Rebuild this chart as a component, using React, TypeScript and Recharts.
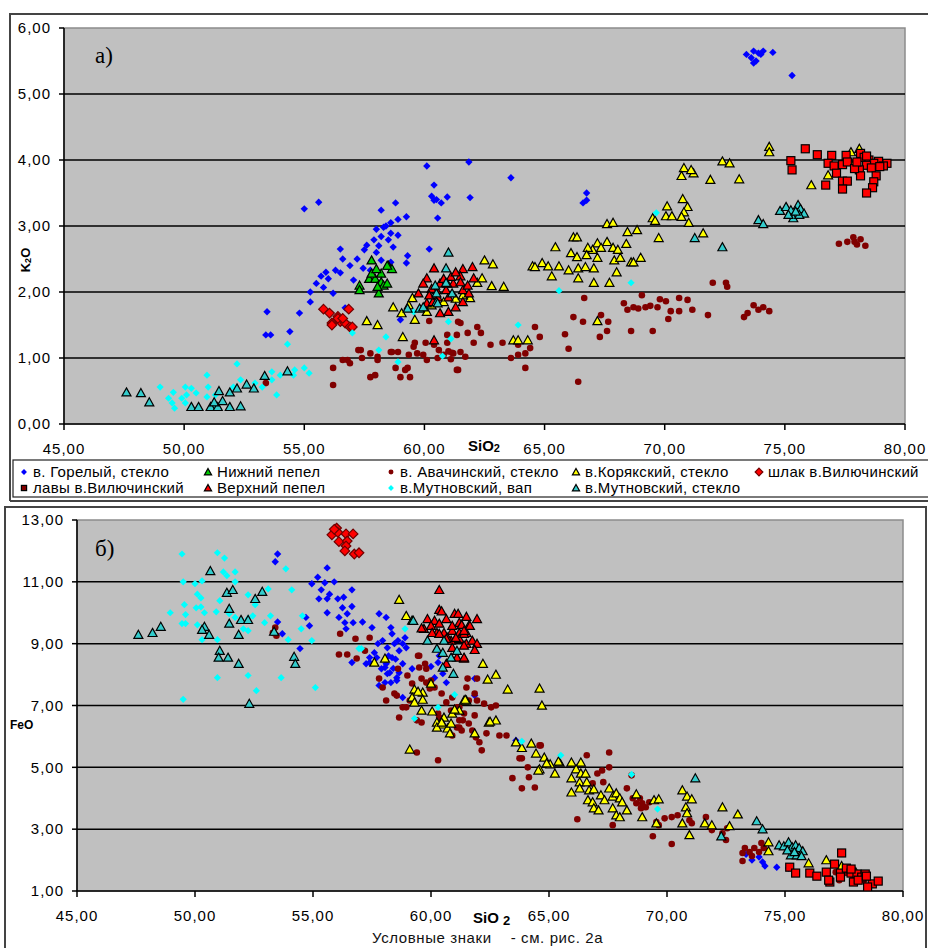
import { ScatterChart, Scatter, XAxis, YAxis, CartesianGrid, ReferenceLine, ReferenceArea } from 'recharts';

type Pt = [number, number];

// ---- panel a) : SiO2 vs K2O ----
const topGorely: Pt[] = [
  [73.4, 5.6], [73.7, 5.65], [73.6, 5.55], [73.9, 5.62], [74.0, 5.6], [73.8, 5.5], [73.7, 5.47], [74.1, 5.65], [74.5, 5.63], [75.3, 5.28],
  [55.0, 3.26], [55.6, 3.36], [60.1, 3.91], [60.4, 3.62], [60.4, 3.39], [60.5, 3.4], [60.55, 3.12], [60.95, 3.44], [61.85, 3.97], [61.9, 3.43],
  [63.6, 3.73], [66.75, 3.5], [66.75, 3.39], [66.6, 3.35], [60.3, 3.45], [60.7, 3.35],
  [58.8, 3.35], [58.9, 3.1], [58.2, 3.24], [59.25, 3.14], [58.3, 2.98], [58.6, 2.89], [58.2, 2.84], [58.9, 2.86], [57.9, 2.79], [57.6, 2.71],
  [57.5, 2.64], [58.5, 2.79], [58.7, 2.68], [58.4, 3.0], [58.0, 2.95], [58.6, 3.05], [58.1, 2.7],
  [56.5, 2.65], [56.6, 2.5], [56.3, 2.33], [56.5, 2.29], [55.7, 2.24], [55.5, 2.13], [55.25, 2.0], [55.8, 2.07], [56.2, 1.98], [55.25, 1.85],
  [54.8, 1.68], [54.4, 1.4], [57.45, 2.36], [57.75, 2.33], [58.2, 2.48], [59.3, 2.55], [59.25, 2.44], [60.2, 2.65], [57.05, 2.18], [56.7, 1.76],
  [59.0, 1.58], [53.45, 1.7], [53.6, 1.35], [53.4, 1.35], [56.0, 2.2], [55.9, 2.3], [57.2, 2.5], [58.0, 2.6], [58.6, 2.45], [56.9, 2.4],
];
const topNizhny: Pt[] = [
  [57.8, 2.48], [57.3, 2.1], [57.3, 2.03], [57.7, 2.2], [57.95, 2.2], [58.2, 2.28], [58.2, 2.15], [58.1, 1.98], [58.3, 2.1], [58.5, 2.4],
  [58.65, 2.35], [58.45, 2.13], [58.05, 2.08], [57.8, 2.28], [58.45, 2.4], [58.0, 2.35],
];
const topAvacha: Pt[] = [
  [53.4, 0.62], [56.2, 0.85], [56.2, 0.59], [56.6, 0.97], [56.9, 0.92], [57.25, 1.12], [57.4, 1.0], [57.75, 0.71], [57.95, 0.74], [58.05, 1.02],
  [58.65, 1.09], [58.9, 1.09], [59.0, 0.71], [59.2, 0.82], [59.4, 0.71], [59.35, 1.05], [59.55, 1.17], [59.95, 1.05], [60.2, 1.56], [60.4, 1.2],
  [60.55, 1.0], [60.95, 1.35], [61.15, 1.08], [61.4, 0.82], [61.4, 1.55], [61.8, 1.38], [56.8, 0.97], [57.35, 1.12], [57.75, 1.07], [58.05, 0.97],
  [58.6, 1.09], [58.8, 0.85], [59.3, 0.85], [59.6, 1.23], [60.05, 1.23], [59.7, 1.07], [60.1, 0.97], [60.6, 1.12], [60.95, 1.23], [61.35, 1.35],
  [61.2, 1.07], [61.5, 1.09], [61.7, 1.02], [61.35, 0.82], [62.05, 1.23], [62.2, 1.47], [62.35, 1.38], [62.75, 1.2], [63.25, 1.23], [63.6, 1.0],
  [63.9, 1.2], [61.5, 1.53], [60.8, 1.05], [61.0, 1.1], [61.1, 0.98],
  [64.6, 1.47], [64.8, 1.32], [64.4, 1.15], [64.2, 1.07], [63.9, 1.05], [64.2, 0.85], [66.4, 0.64], [65.85, 1.36], [66.0, 1.14], [66.2, 1.62],
  [66.6, 1.55], [66.65, 1.91], [67.3, 1.32], [67.35, 1.65], [67.6, 1.41], [67.65, 1.55], [68.3, 1.83], [68.45, 1.73], [68.6, 1.41], [68.7, 1.77],
  [68.9, 1.75], [69.05, 1.95], [69.2, 1.77], [69.4, 1.79], [69.5, 1.41], [69.7, 1.77], [69.8, 1.89], [70.05, 1.86], [70.15, 1.59], [70.25, 1.71],
  [70.6, 1.91], [70.6, 1.71], [70.95, 1.88], [71.15, 1.73], [71.8, 1.65], [72.0, 2.14], [72.55, 2.14], [72.6, 2.08], [73.3, 1.62], [73.45, 1.68],
  [73.7, 1.8], [73.9, 1.73], [74.1, 1.77], [74.35, 1.71], [77.25, 2.73], [77.6, 2.76], [77.85, 2.83], [78.15, 2.8], [78.35, 2.7], [77.9, 2.76],
  [78.0, 2.72],
];
const topKoryak: Pt[] = [
  [72.4, 3.98], [72.7, 3.95], [70.8, 3.88], [71.2, 3.8], [70.7, 3.76], [71.1, 3.85], [71.9, 3.7], [73.1, 3.71], [70.75, 3.41], [70.1, 3.3],
  [70.95, 3.29], [70.8, 3.21], [70.05, 3.15], [70.3, 3.15], [70.7, 3.14], [71.0, 3.05], [69.5, 3.12], [69.6, 3.08], [71.6, 2.89], [69.75, 2.82],
  [67.6, 3.03], [67.85, 3.05], [68.45, 2.91], [68.85, 2.94], [66.2, 2.83], [66.35, 2.83], [65.45, 2.68], [68.4, 2.73], [67.2, 2.74], [67.6, 2.76],
  [67.0, 2.64], [67.35, 2.67], [67.85, 2.67], [68.05, 2.64], [66.8, 2.67], [66.1, 2.59], [66.35, 2.53], [67.2, 2.52], [66.75, 2.56], [69.0, 2.52],
  [68.6, 2.45], [68.7, 2.45], [67.9, 2.48], [68.15, 2.52], [65.6, 2.39], [64.5, 2.39], [64.9, 2.44], [64.6, 2.38], [65.15, 2.39], [66.0, 2.33],
  [66.4, 2.36], [67.05, 2.36], [66.7, 2.38], [65.3, 2.24], [66.4, 2.21], [68.0, 2.3], [67.05, 2.14], [67.7, 2.14], [67.2, 1.56], [63.7, 1.27],
  [63.9, 1.27], [64.3, 1.27], [62.5, 2.48], [62.85, 2.42], [62.4, 2.21], [62.2, 2.14], [62.8, 2.09], [63.3, 2.08], [58.7, 1.77], [59.05, 1.68],
  [57.6, 1.56], [58.05, 1.5], [59.1, 1.32], [59.5, 1.91], [59.35, 1.8], [59.6, 1.58], [60.1, 1.7], [61.9, 1.91], [60.3, 1.8], [60.8, 1.85],
  [61.3, 1.9], [61.6, 1.95], [74.35, 4.2], [74.35, 4.12], [76.8, 3.77], [76.1, 3.62], [77.75, 4.12], [78.1, 4.17], [77.7, 3.98],
];
const topShlak: Pt[] = [
  [55.8, 1.74], [56.05, 1.68], [56.4, 1.63], [56.85, 1.74], [56.15, 1.53], [56.5, 1.55], [56.7, 1.53], [56.9, 1.47], [56.4, 1.6], [56.6, 1.6],
  [57.0, 1.47], [56.15, 1.5],
];
const topLavy: Pt[] = [
  [75.85, 4.17], [76.35, 4.08], [75.25, 3.99], [75.3, 3.85], [76.95, 4.07], [76.8, 3.95], [77.05, 3.91], [77.4, 3.93], [77.55, 4.07], [77.6, 3.97],
  [77.15, 3.8], [77.4, 3.68], [77.6, 3.68], [76.7, 3.62], [77.4, 3.56], [78.15, 4.1], [78.3, 4.04], [78.5, 4.0], [78.9, 3.98], [79.25, 3.95],
  [79.1, 3.91], [78.7, 3.95], [78.4, 3.92], [78.1, 3.85], [78.15, 3.76], [78.6, 3.88], [78.95, 3.9], [78.8, 3.76], [78.7, 3.67], [78.65, 3.58],
  [78.4, 3.5], [77.9, 3.87], [78.4, 4.06], [78.0, 3.97],
];
const topVerkhny: Pt[] = [
  [60.4, 2.36], [62.0, 2.38], [61.6, 2.35], [60.1, 2.21], [61.5, 2.24], [59.95, 2.13], [59.75, 1.98], [60.65, 2.13], [61.2, 2.13], [61.6, 2.03],
  [61.0, 1.92], [60.1, 1.83], [60.65, 1.68], [61.0, 1.7], [61.3, 1.77], [61.6, 1.85], [61.85, 1.98], [60.4, 1.27], [62.05, 2.21], [60.5, 2.03],
  [60.9, 2.03], [61.1, 2.23], [61.5, 2.15], [60.55, 1.92], [60.35, 1.85], [60.3, 2.05], [60.8, 2.2], [61.3, 2.3], [61.8, 2.1], [60.2, 1.95],
];
const topMutnVap: Pt[] = [
  [49.0, 0.56], [49.55, 0.48], [49.35, 0.39], [49.5, 0.32], [49.6, 0.24], [50.05, 0.56], [50.1, 0.44], [49.9, 0.39], [50.05, 0.32], [50.3, 0.54],
  [50.5, 0.47], [50.95, 0.74], [51.0, 0.56], [50.95, 0.41], [51.3, 0.44], [51.2, 0.26], [52.2, 0.91], [52.05, 0.56], [52.35, 0.67], [52.95, 0.62],
  [53.25, 0.56], [53.65, 0.79], [53.65, 0.67], [54.0, 0.74], [53.85, 0.44], [54.3, 1.21], [54.55, 0.74], [54.6, 0.82], [55.0, 0.85], [55.2, 0.77],
  [57.0, 1.38], [58.1, 1.12], [58.4, 1.32], [58.9, 0.94], [59.55, 1.7], [60.75, 1.03], [61.0, 1.55], [61.1, 1.29], [63.9, 1.5], [65.6, 2.02],
  [68.6, 2.14], [69.65, 3.2],
];
const topMutnGlass: Pt[] = [
  [47.6, 0.48], [48.2, 0.47], [48.55, 0.33], [50.3, 0.26], [50.6, 0.26], [51.1, 0.26], [51.4, 0.26], [51.9, 0.26], [52.35, 0.27], [51.45, 0.5],
  [51.25, 0.33], [51.6, 0.35], [51.9, 0.48], [52.2, 0.54], [52.6, 0.6], [52.9, 0.54], [53.35, 0.73], [54.3, 0.8], [61.0, 2.6], [60.9, 2.36],
  [60.5, 1.98], [60.95, 2.13], [60.5, 1.85], [59.8, 1.75], [60.45, 2.1], [60.9, 2.14], [61.15, 1.98], [60.55, 1.83], [59.95, 1.77], [59.3, 1.75],
  [74.8, 3.23], [75.05, 3.29], [75.25, 3.24], [75.55, 3.32], [75.65, 3.26], [75.8, 3.19], [75.35, 3.12], [75.15, 3.17], [75.6, 3.17], [75.45, 3.22],
  [73.9, 3.09], [74.1, 3.03], [71.25, 2.82], [72.4, 2.68],
];

// ---- panel б) : SiO2 vs FeO ----
const botGorely: Pt[] = [
  [53.5, 11.9], [53.4, 11.65], [55.6, 11.45], [55.2, 11.15], [54.95, 10.94], [55.5, 10.97], [55.9, 11.0], [55.35, 10.74], [55.7, 10.6], [55.25, 10.45],
  [55.6, 10.45], [56.05, 10.45], [56.3, 10.5], [56.65, 10.74], [56.25, 10.16], [56.65, 10.2], [55.6, 10.0], [56.1, 9.85], [56.45, 9.97], [56.35, 9.68],
  [56.7, 9.68], [56.4, 9.48], [57.1, 9.7], [53.5, 9.7], [53.7, 9.32], [54.45, 8.84], [54.7, 9.85], [54.85, 9.58], [56.65, 8.39], [57.5, 9.52],
  [57.8, 9.97], [58.1, 9.85], [57.25, 8.35], [57.4, 8.55], [57.6, 8.71], [57.75, 9.0], [57.95, 9.1], [58.15, 8.87], [58.3, 9.52], [58.35, 9.32],
  [58.6, 9.1], [58.65, 8.77], [58.35, 8.55], [58.1, 8.35], [57.9, 8.19], [58.15, 8.03], [58.3, 7.74], [58.55, 7.81], [58.65, 8.06], [58.8, 8.35],
  [58.9, 9.19], [58.95, 8.87], [58.8, 9.0], [57.7, 8.55], [57.4, 8.39], [58.05, 8.23], [58.25, 8.06], [58.55, 7.9], [58.05, 7.74], [57.8, 7.65],
  [58.8, 7.26], [59.2, 8.19], [60.0, 8.26], [60.3, 8.39], [60.5, 8.03], [60.15, 7.9], [60.65, 7.74], [60.35, 8.61], [61.85, 7.87], [61.85, 7.32],
  [63.6, 5.87], [58.4, 8.2], [58.5, 8.5], [58.2, 8.6], [58.45, 9.0],
  [73.35, 2.19], [73.6, 2.0], [73.9, 2.1], [74.05, 1.94], [74.15, 1.81], [74.65, 1.77], [75.15, 1.74],
];
const botNizhny: Pt[] = [[59.2, 9.75]];
const botAvacha: Pt[] = [
  [53.4, 9.52], [53.45, 9.26], [53.3, 9.35], [56.15, 9.32], [56.1, 8.65], [56.45, 8.65], [56.8, 9.16], [56.85, 8.52], [57.2, 8.77], [57.4, 9.19],
  [57.8, 7.87], [57.95, 7.58], [58.1, 7.16], [58.45, 7.39], [58.6, 8.19], [58.65, 6.61], [58.95, 6.94], [59.0, 7.97], [59.2, 7.71], [59.5, 8.61],
  [59.75, 8.35], [59.8, 8.19], [59.4, 6.52], [60.0, 7.81], [60.15, 7.58], [60.45, 7.39], [60.65, 7.1], [60.85, 6.84], [61.1, 6.94], [61.2, 6.52],
  [61.4, 6.74], [59.6, 6.45], [59.4, 5.48], [60.3, 5.23], [60.9, 6.03], [61.1, 6.29], [61.3, 6.19], [58.55, 7.32], [58.8, 6.94], [59.1, 7.16],
  [59.45, 8.61], [59.5, 8.23], [59.6, 7.87], [59.8, 7.74], [59.95, 7.55], [60.3, 6.74], [60.35, 6.61], [60.9, 7.26], [61.2, 6.94], [61.6, 7.16],
  [61.85, 7.39], [61.95, 7.16], [62.25, 7.06], [62.55, 6.94], [62.75, 7.0], [61.85, 6.68], [61.6, 6.42], [61.35, 6.52], [61.2, 6.29], [61.75, 6.19],
  [61.9, 5.97], [62.05, 5.81], [62.15, 5.55], [62.35, 6.1], [62.9, 6.03], [63.2, 6.03], [61.95, 7.87], [61.55, 7.87], [61.5, 7.58], [63.85, 5.29],
  [64.1, 5.0], [64.6, 5.71], [63.45, 4.65], [63.85, 4.32], [64.4, 4.35], [66.6, 5.39], [67.05, 4.8], [66.85, 4.48], [63.75, 5.29], [64.15, 4.68],
  [64.65, 5.71], [66.2, 3.32], [67.25, 4.9], [67.3, 4.52], [67.55, 5.48], [67.55, 5.0], [67.7, 3.13], [68.3, 4.32], [68.5, 4.74], [68.55, 4.0],
  [68.7, 3.84], [68.85, 4.0], [68.95, 3.84], [69.1, 3.71], [69.25, 3.87], [68.9, 3.68], [69.4, 2.77], [69.55, 3.23], [69.65, 3.13], [69.9, 3.35],
  [70.2, 3.39], [70.2, 2.52], [70.45, 3.45], [70.95, 3.29], [71.05, 3.19], [71.65, 3.39], [71.9, 2.97], [72.35, 2.87], [72.5, 2.65], [72.55, 3.03],
  [73.2, 2.23], [73.3, 2.39], [73.5, 2.26], [73.6, 2.13], [73.7, 2.39], [73.9, 2.26], [74.0, 2.55], [74.1, 2.39], [73.2, 1.97], [77.15, 1.61],
  [77.4, 1.45], [77.6, 1.58], [77.9, 1.42], [78.15, 1.52], [78.35, 1.35], [77.3, 1.35],
];
const botKoryak: Pt[] = [
  [58.65, 10.42], [58.95, 9.9], [57.6, 8.39], [58.05, 8.52], [59.3, 7.52], [59.2, 7.26], [59.65, 7.42], [59.3, 7.1], [59.6, 6.84], [60.05, 6.81],
  [60.25, 6.45], [60.55, 6.61], [60.9, 6.74], [61.2, 6.84], [61.4, 7.16], [60.5, 6.39], [60.7, 6.26], [59.1, 5.58], [60.25, 6.29], [60.8, 6.1],
  [60.85, 6.42], [62.2, 8.35], [62.75, 8.0], [62.4, 7.84], [63.25, 7.52], [64.6, 7.55], [64.7, 7.0], [60.0, 7.71], [59.45, 7.45], [59.65, 7.19],
  [61.0, 6.87], [61.5, 7.16], [60.45, 6.45], [61.85, 6.1], [62.45, 6.45], [62.75, 6.52], [63.6, 5.81], [63.85, 5.63], [64.25, 5.77], [64.45, 5.45],
  [64.8, 5.32], [64.6, 4.94], [65.05, 5.1], [65.25, 4.8], [65.45, 5.16], [65.95, 5.16], [66.35, 5.16], [66.15, 4.94], [66.35, 4.8], [65.95, 4.65],
  [66.3, 4.52], [64.55, 4.9], [64.9, 5.13], [65.4, 5.19], [66.55, 4.8], [65.95, 4.19], [66.3, 4.32], [66.6, 4.52], [66.7, 4.26], [66.9, 4.29],
  [66.65, 3.94], [66.85, 3.87], [67.2, 4.1], [67.35, 3.94], [67.55, 4.32], [67.7, 4.06], [67.85, 4.16], [68.0, 4.0], [68.1, 3.87], [66.9, 3.68],
  [67.1, 3.61], [67.7, 3.68], [67.85, 3.45], [68.0, 3.39], [68.3, 3.61], [68.7, 4.13], [68.95, 3.39], [69.45, 3.94], [69.65, 3.97], [69.55, 3.19],
  [70.65, 4.26], [70.85, 4.06], [71.05, 3.97], [70.8, 3.71], [70.85, 3.52], [70.65, 3.19], [70.95, 2.81], [71.6, 3.19], [71.9, 3.13], [72.35, 3.71],
  [72.65, 3.1], [73.0, 3.48], [74.3, 2.58], [74.3, 2.29], [76.0, 1.9], [76.75, 2.0], [77.4, 1.81], [78.0, 1.61], [62.5, 6.48], [61.45, 7.19],
];
const botShlak: Pt[] = [
  [56.0, 12.74], [55.8, 12.52], [56.05, 12.6], [56.4, 12.55], [56.7, 12.55], [56.1, 12.3], [56.45, 12.32], [56.4, 12.16], [56.35, 12.0], [56.75, 11.9],
  [56.95, 11.94], [55.9, 12.7],
];
const botLavy: Pt[] = [
  [75.2, 1.77], [75.45, 1.58], [76.05, 1.58], [76.35, 1.48], [76.75, 1.61], [76.9, 1.29], [77.1, 1.87], [77.4, 2.23], [77.35, 1.58], [77.6, 1.74],
  [77.8, 1.58], [78.05, 1.55], [78.25, 1.45], [78.4, 1.55], [78.7, 1.23], [78.95, 1.32], [78.5, 1.13], [77.9, 1.29], [76.85, 1.35], [77.8, 1.71],
  [78.1, 1.35], [77.35, 1.45], [78.45, 1.48],
];
const botVerkhny: Pt[] = [
  [60.35, 10.74], [60.35, 10.1], [60.45, 10.05], [59.85, 9.8], [60.15, 9.74], [59.7, 9.48], [60.0, 9.58], [60.35, 9.65], [60.65, 9.8], [61.0, 9.97],
  [61.15, 9.97], [61.5, 9.87], [61.95, 9.8], [61.2, 9.68], [61.6, 9.58], [60.25, 9.35], [60.55, 9.35], [60.9, 9.42], [61.2, 9.35], [61.5, 9.35],
  [60.85, 9.1], [61.2, 9.16], [61.5, 9.0], [61.75, 9.1], [61.95, 9.0], [61.85, 8.8], [60.9, 8.87], [61.4, 8.52], [60.65, 8.35], [61.1, 8.55],
  [60.7, 9.19], [59.6, 9.5], [61.3, 9.61], [61.65, 9.58], [61.4, 9.32], [61.4, 8.94], [61.4, 8.55], [60.05, 9.35], [60.35, 9.32], [60.9, 9.58],
  [60.65, 9.16], [61.05, 9.19], [61.4, 9.42],
];
const botMutnVap: Pt[] = [
  [49.45, 11.9], [49.5, 11.0], [50.0, 10.94], [50.1, 10.6], [50.25, 10.48], [50.3, 11.03], [49.55, 10.26], [50.05, 10.16], [50.25, 10.19], [50.4, 10.0],
  [48.95, 10.0], [49.6, 9.94], [49.45, 9.65], [49.6, 9.65], [50.1, 9.61], [50.3, 9.13], [50.95, 9.13], [49.5, 7.2], [50.95, 7.9], [50.95, 11.94],
  [51.25, 11.77], [51.2, 11.32], [51.35, 11.2], [51.7, 11.32], [51.7, 11.0], [51.05, 10.39], [50.9, 10.03], [51.45, 9.97], [51.7, 9.85], [52.05, 9.48],
  [52.25, 9.81], [52.25, 10.58], [52.55, 10.26], [52.45, 9.9], [52.25, 9.42], [52.25, 7.97], [52.6, 7.48], [52.95, 9.68], [53.1, 10.77], [53.2, 9.9],
  [53.65, 7.9], [53.85, 11.42], [53.95, 9.13], [54.1, 10.74], [54.5, 9.48], [54.55, 9.9], [54.95, 9.1], [55.1, 7.58], [56.95, 8.84], [58.9, 9.48],
  [57.05, 8.84], [61.0, 7.35], [60.3, 6.94], [59.3, 6.58], [63.85, 5.84], [65.5, 5.39], [69.6, 3.65], [68.5, 4.77],
];
const botMutnGlass: Pt[] = [
  [47.6, 9.29], [48.2, 9.35], [48.55, 9.55], [50.65, 11.35], [51.35, 10.65], [51.6, 10.74], [52.85, 10.68], [52.55, 10.45], [51.45, 10.13], [51.45, 9.65],
  [51.95, 9.77], [52.25, 9.77], [50.4, 9.55], [50.3, 9.45], [50.6, 9.29], [51.85, 9.29], [51.05, 8.77], [51.0, 8.55], [51.4, 8.55], [51.85, 8.35],
  [52.3, 7.06], [54.2, 8.58], [54.25, 8.35], [53.35, 9.39], [59.25, 9.74], [59.85, 9.1], [60.25, 8.84], [60.55, 9.1], [60.5, 8.71], [60.85, 8.55],
  [61.1, 8.77], [60.5, 8.23], [60.95, 8.03], [71.2, 4.65], [73.8, 3.26], [74.05, 3.0], [72.3, 2.77], [74.75, 2.48], [74.95, 2.45], [75.15, 2.58],
  [75.3, 2.42], [75.45, 2.48], [75.6, 2.39], [75.75, 2.29], [75.25, 2.16], [75.5, 2.16], [75.7, 2.13], [75.1, 2.32], [75.4, 2.26],
];

const X_TICKS = [45, 50, 55, 60, 65, 70, 75, 80];
const K2O_TICKS = [0, 1, 2, 3, 4, 5, 6];
const FEO_TICKS = [1, 3, 5, 7, 9, 11, 13];

type Kind = 'diamond' | 'triangle' | 'circle' | 'square';
interface SeriesDef {
  name: string;
  kind: Kind;
  size: number;
  fill: string;
  stroke: string;
  legendFill?: string;
  top: Pt[];
  bottom: Pt[];
}

// legend order (row by row), also drawing order
const SERIES: SeriesDef[] = [
  { name: 'в. Горелый, стекло', kind: 'diamond', size: 3.7, fill: '#0000FF', stroke: 'none', top: topGorely, bottom: botGorely },
  { name: 'Нижний пепел', kind: 'triangle', size: 9, fill: '#00CC00', stroke: '#000', top: topNizhny, bottom: botNizhny },
  { name: 'в. Авачинский, стекло', kind: 'circle', size: 3.3, fill: '#800000', stroke: 'none', top: topAvacha, bottom: botAvacha },
  { name: 'в.Корякский, стекло', kind: 'triangle', size: 9, fill: '#FFFF00', stroke: '#000', top: topKoryak, bottom: botKoryak },
  { name: 'шлак в.Вилючинский', kind: 'diamond', size: 4.8, fill: '#FF0000', stroke: '#700000', top: topShlak, bottom: botShlak },
  { name: 'лавы в.Вилючинский', kind: 'square', size: 8, fill: '#FF0000', stroke: '#000', legendFill: '#800000', top: topLavy, bottom: botLavy },
  { name: 'Верхний пепел', kind: 'triangle', size: 9, fill: '#FF0000', stroke: '#000', top: topVerkhny, bottom: botVerkhny },
  { name: 'в.Мутновский, вап', kind: 'diamond', size: 3.6, fill: '#00FFFF', stroke: 'none', top: topMutnVap, bottom: botMutnVap },
  { name: 'в.Мутновский, стекло', kind: 'triangle', size: 9, fill: '#33CCCC', stroke: '#000', top: topMutnGlass, bottom: botMutnGlass },
];

const FONT = '"Liberation Sans", Arial, sans-serif';
const fmt = (v: number) => v.toFixed(2).replace('.', ',');

function marker(s: SeriesDef, cx: number, cy: number, scale = 1, fillOverride?: string) {
  const r = s.size * scale;
  const fill = fillOverride ?? s.fill;
  const sw = s.stroke === 'none' ? 0 : 1.2;
  switch (s.kind) {
    case 'diamond':
      return <polygon points={`${cx},${cy - r} ${cx + r},${cy} ${cx},${cy + r} ${cx - r},${cy}`} fill={fill} stroke={s.stroke} strokeWidth={sw} />;
    case 'circle':
      return <circle cx={cx} cy={cy} r={r} fill={fill} />;
    case 'square':
      return <rect x={cx - r / 2} y={cy - r / 2} width={r} height={r} fill={fill} stroke={s.stroke} strokeWidth={sw} />;
    default: {
      const w = r;
      const h = r * 0.9;
      return (
        <polygon
          points={`${cx},${cy - h * 0.55} ${cx + w / 2},${cy + h * 0.45} ${cx - w / 2},${cy + h * 0.45}`}
          fill={fill}
          stroke={s.stroke}
          strokeWidth={sw}
        />
      );
    }
  }
}

const toData = (pts: Pt[]) => pts.map(([x, y]) => ({ x, y }));

const tickStyle = { fill: '#000', fontSize: 15, fontFamily: FONT, letterSpacing: 1 };

function Panel({ which, ticks, domain, height, margin }: {
  which: 'top' | 'bottom';
  ticks: number[];
  domain: [number, number];
  height: number;
  margin: { top: number; right: number; bottom: number; left: number };
}) {
  const inner = ticks.slice(1, -1);
  return (
    <ScatterChart width={928} height={height} margin={margin}>
      <CartesianGrid horizontal={false} vertical={false} fill="#C0C0C0" />
      <ReferenceArea x1={45} x2={80} y1={domain[0]} y2={domain[1]} fill="none" stroke="#8c8c8c" strokeWidth={1.5} ifOverflow="visible" />
      {inner.map((t) => (
        <ReferenceLine key={t} y={t} stroke="#000" strokeWidth={1.5} />
      ))}
      <XAxis
        type="number"
        dataKey="x"
        domain={[45, 80]}
        ticks={X_TICKS}
        tickFormatter={fmt}
        allowDataOverflow
        height={30}
        tickSize={6}
        tickMargin={13}
        axisLine={{ stroke: '#000', strokeWidth: 1.5 }}
        tickLine={{ stroke: '#000', strokeWidth: 1.5 }}
        tick={tickStyle}
        interval={0}
      />
      <YAxis
        type="number"
        dataKey="y"
        domain={domain}
        ticks={ticks}
        tickFormatter={fmt}
        allowDataOverflow
        width={which === 'top' ? 56 : 60}
        tickSize={5}
        tickMargin={8}
        axisLine={{ stroke: '#000', strokeWidth: 1.5 }}
        tickLine={{ stroke: '#000', strokeWidth: 1.5 }}
        tick={tickStyle}
        interval={0}
      />
      {SERIES.map((s) => (
        <Scatter
          key={s.name}
          name={s.name}
          data={toData(which === 'top' ? s.top : s.bottom)}
          isAnimationActive={false}
          shape={(p: any) => marker(s, p.cx, p.cy)}
        />
      ))}
    </ScatterChart>
  );
}

const LEGEND_COLS = [22, 206, 389, 574, 757];

export default function App() {
  return (
    <div style={{ position: 'absolute', left: 0, top: 0, width: 928, height: 948, background: '#fff', overflow: 'hidden' }}>
      <div style={{ position: 'absolute', left: 0, top: 0 }}>
        <Panel which="top" ticks={K2O_TICKS} domain={[0, 6]} height={460} margin={{ top: 28, right: 23, bottom: 6, left: 8 }} />
      </div>
      <div style={{ position: 'absolute', left: 0, top: 500 }}>
        <Panel which="bottom" ticks={FEO_TICKS} domain={[1, 13]} height={448} margin={{ top: 20, right: 25, bottom: 27, left: 17 }} />
      </div>
      <svg width={928} height={948} style={{ position: 'absolute', left: 0, top: 0, pointerEvents: 'none' }}>
        {/* frames */}
        <polyline points="10,501 10,14 940,14" fill="none" stroke="#444" strokeWidth={2} />
        <rect x={13} y={460} width={930} height={37} fill="none" stroke="#222" strokeWidth={1.2} />
        <line x1={10} y1={501} x2={940} y2={501} stroke="#444" strokeWidth={2} />
        <polyline points="5,950 5,507 926,507 926,950" fill="none" stroke="#444" strokeWidth={2} />

        {/* panel labels */}
        <text x={95} y={63} fontFamily='"Liberation Serif", "Times New Roman", serif' fontSize={23}>а)</text>
        <text x={95} y={556} fontFamily='"Liberation Serif", "Times New Roman", serif' fontSize={23}>б)</text>

        {/* axis titles */}
        <text transform="rotate(-90 30 260)" x={30} y={260} textAnchor="middle" fontFamily={FONT} fontWeight="bold" fontSize={13}>
          K<tspan fontSize={9} dy={1}>2</tspan><tspan dy={-1}>O</tspan>
        </text>
        <text x={468} y={451} fontFamily={FONT} fontWeight="bold" fontSize={15}>
          SiO<tspan fontSize={11} dy={1}>2</tspan>
        </text>
        <text x={10} y={729} fontFamily={FONT} fontWeight="bold" fontSize={12}>FeO</text>
        <text x={473} y={923} fontFamily={FONT} fontWeight="bold" fontSize={15}>
          SiO <tspan fontSize={13} dy={2}>2</tspan>
        </text>
        <text x={372} y={943} fontFamily={FONT} fontSize={15} fill="#111" letterSpacing={0.6} xmlSpace="preserve">
          Условные знаки    - см. рис. 2а
        </text>

        {/* legend */}
        {SERIES.map((s, i) => {
          const col = i % 5;
          const row = Math.floor(i / 5);
          const x = LEGEND_COLS[col];
          const y = row === 0 ? 472 : 488;
          const sc = s.kind === 'square' ? 0.65 : s.kind === 'triangle' ? 0.8 : s.kind === 'circle' ? 0.75 : 0.8;
          return (
            <g key={s.name}>
              {marker(s, x + 2, y, sc, s.legendFill)}
              <text x={x + 11} y={y + 5} fontFamily={FONT} fontSize={15} fill="#000" letterSpacing={0.3}>
                {s.name}
              </text>
            </g>
          );
        })}
      </svg>
    </div>
  );
}
